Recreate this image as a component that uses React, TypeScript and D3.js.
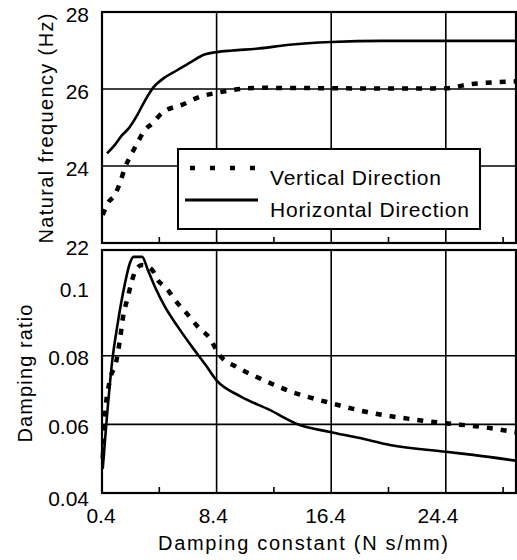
import * as d3 from 'd3';

// damping constant (N s/mm) vs natural frequency (Hz)
const freqHorizX = [0.75, 1.3, 1.8, 2.2, 2.9, 3.4, 4.0, 4.6, 5.7, 6.6, 7.6, 8.4, 9.5, 11.3, 13.5, 16.4, 20, 24.4, 29.3];
const freqHorizY = [24.33, 24.55, 24.8, 24.95, 25.35, 25.7, 26.05, 26.25, 26.5, 26.7, 26.9, 26.96, 27.0, 27.05, 27.15, 27.22, 27.25, 27.25, 27.25];
const freqVertX = [0.45, 0.82, 1.3, 1.65, 2.0, 2.5, 2.9, 3.4, 3.9, 4.6, 6.05, 7.24, 8.4, 11.3, 16.4, 20.4, 24.4, 26.0, 28.0, 29.3];
const freqVertY = [22.73, 23.04, 23.25, 23.56, 23.95, 24.34, 24.62, 24.94, 25.1, 25.38, 25.6, 25.8, 25.9, 26.03, 26.02, 26.01, 26.02, 26.12, 26.18, 26.2];

// damping constant vs damping ratio
const ratioHorizX = [0.45, 0.7, 1.1, 1.5, 2.0, 2.35, 2.6, 3.2, 3.6, 4.1, 4.8, 5.7, 6.7, 7.6, 8.4, 10.0, 12.1, 14.2, 16.3, 18.4, 20.5, 24.4, 26.3, 29.3];
const ratioHorizY = [0.047, 0.06, 0.078, 0.0895, 0.101, 0.107, 0.1088, 0.1088, 0.105, 0.1, 0.0942, 0.0884, 0.0825, 0.0775, 0.0728, 0.0683, 0.0642, 0.0598, 0.0578, 0.056, 0.054, 0.052, 0.0511, 0.0494];
const ratioVertX = [0.45, 0.6, 0.96, 1.38, 1.65, 1.87, 2.2, 2.5, 2.84, 3.2, 3.9, 4.3, 4.9, 5.5, 6.3, 7.1, 7.9, 8.6, 9.8, 11.2, 13.7, 16.1, 18.9, 22.4, 24.2, 27.0, 29.3];
const ratioVertY = [0.05, 0.062, 0.073, 0.078, 0.0846, 0.0913, 0.097, 0.102, 0.1055, 0.1064, 0.105, 0.102, 0.0997, 0.0962, 0.0924, 0.0884, 0.0852, 0.0802, 0.0767, 0.0738, 0.0694, 0.0665, 0.0636, 0.0613, 0.0604, 0.0592, 0.0577];

const xTicks = [0.4, 8.4, 16.4, 24.4];
const xMinorTicks = [4.4, 12.4, 20.4, 28.4];
const freqTicks = [22, 24, 26, 28];
const ratioTicks = [0.04, 0.06, 0.08, 0.1];
const ratioTickLabels = ['0.04', '0.06', '0.08', '0.1'];

const legendLabels = ['Vertical Direction', 'Horizontal Direction'];
const legendWidths = [171, 199];

const W = 517;
const H = 560;
const left = 102;
const right = 516;
const top1 = 12;
const bottom1 = 243;
const top2 = 250;
const bottom2 = 493;
const font = 'Arial, "Liberation Sans", Helvetica, sans-serif';
const dotted = '6 8';

const zip = (xs: number[], ys: number[]) => xs.map((x, i) => [x, ys[i]] as [number, number]);

export default function App() {
  const x = d3.scaleLinear().domain([0.4, 29.3]).range([left, right]);
  const yFreq = d3.scaleLinear().domain([22, 28]).range([bottom1, top1]);
  const yRatio = d3.scaleLinear().domain([0.04, 0.1108]).range([bottom2, top2]);

  const freqLine = d3
    .line<[number, number]>()
    .x((d) => x(d[0]))
    .y((d) => yFreq(d[1]))
    .curve(d3.curveMonotoneX);
  const ratioLine = d3
    .line<[number, number]>()
    .x((d) => x(d[0]))
    .y((d) => yRatio(d[1]))
    .curve(d3.curveMonotoneX);

  // gridlines + frame for one panel
  const panel = (y: d3.ScaleLinear<number, number>, ticks: number[], t: number, b: number) => (
    <g>
      {xTicks.slice(1).map((v) => (
        <line key={'v' + v} x1={x(v)} x2={x(v)} y1={t} y2={b} stroke='#000' strokeWidth={1.6} />
      ))}
      {ticks.slice(1, -1).map((v) => (
        <line key={'h' + v} x1={left} x2={right} y1={y(v)} y2={y(v)} stroke='#000' strokeWidth={1.6} />
      ))}
      {xMinorTicks.map((v) => (
        <line key={'m' + v} x1={x(v)} x2={x(v)} y1={b} y2={b - 6} stroke='#000' strokeWidth={1.6} />
      ))}
      <rect x={left} y={t} width={right - left} height={b - t} fill='none' stroke='#000' strokeWidth={2.2} />
    </g>
  );

  return (
    <svg width={W} height={H} style={{ position: 'absolute', left: 0, top: 0, background: '#fff' }} fontFamily={font}>
      {/* top panel: natural frequency */}
      {panel(yFreq, freqTicks, top1, bottom1)}
      <path d={freqLine(zip(freqVertX, freqVertY)) || ''} fill='none' stroke='#000' strokeWidth={4.5} strokeDasharray={dotted} />
      <path d={freqLine(zip(freqHorizX, freqHorizY)) || ''} fill='none' stroke='#000' strokeWidth={2.6} />
      {freqTicks.map((v) => (
        <text key={v} x={89} y={yFreq(v) + (v === 22 ? 4 : 2)} dy='0.36em' textAnchor='end' fontSize={21}>
          {v}
        </text>
      ))}
      <text
        transform={`translate(53, ${(top1 + bottom1) / 2 + 1}) rotate(-90)`}
        textAnchor='middle'
        fontSize={20}
        textLength={230}
        lengthAdjust='spacing'
      >
        Natural frequency (Hz)
      </text>

      {/* legend */}
      <g>
        <rect x={178} y={149} width={302} height={80} fill='#fff' stroke='#000' strokeWidth={2} />
        <line x1={190} x2={258} y1={168} y2={168} stroke='#000' strokeWidth={4.5} strokeDasharray='5 15' />
        <line x1={185} x2={258} y1={200} y2={200} stroke='#000' strokeWidth={3} />
        {legendLabels.map((l, i) => (
          <text key={l} x={270} y={185 + i * 32} fontSize={21} textLength={legendWidths[i]} lengthAdjust='spacing'>
            {l}
          </text>
        ))}
      </g>

      {/* bottom panel: damping ratio */}
      {panel(yRatio, ratioTicks, top2, bottom2)}
      <path d={ratioLine(zip(ratioVertX, ratioVertY)) || ''} fill='none' stroke='#000' strokeWidth={4.5} strokeDasharray={dotted} />
      <path d={ratioLine(zip(ratioHorizX, ratioHorizY)) || ''} fill='none' stroke='#000' strokeWidth={2.6} />
      {ratioTicks.map((v, i) => (
        <text key={v} x={89} y={yRatio(v) + (i === 0 ? 5 : 2)} dy='0.36em' textAnchor='end' fontSize={21}>
          {ratioTickLabels[i]}
        </text>
      ))}
      <text
        transform={`translate(32, ${(top2 + bottom2) / 2 + 2}) rotate(-90)`}
        textAnchor='middle'
        fontSize={20}
        textLength={138}
        lengthAdjust='spacing'
      >
        Damping ratio
      </text>

      {/* x axis */}
      {xTicks.map((v, i) => (
        <text key={v} x={x(v) - 1 - i * 2.3} y={523} textAnchor='middle' fontSize={21}>
          {v.toFixed(1)}
        </text>
      ))}
      <text x={303} y={550} textAnchor='middle' fontSize={20} textLength={290} lengthAdjust='spacing'>
        Damping constant (N s/mm)
      </text>
    </svg>
  );
}
